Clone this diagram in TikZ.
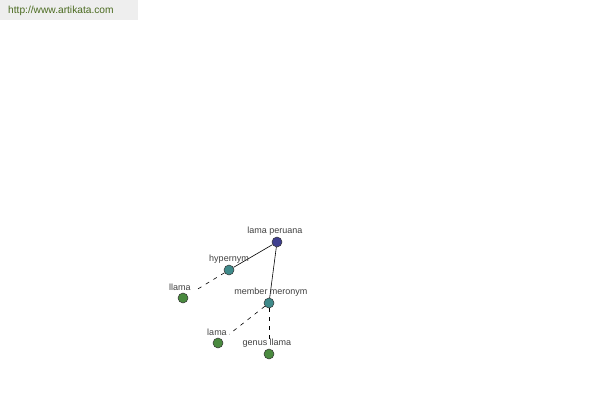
\documentclass[tikz,border=0pt]{standalone}
\usepackage{fontspec}
\setmainfont{Liberation Sans}
\definecolor{rootc}{HTML}{3F3F8F}
\definecolor{midc}{HTML}{3F8A8A}
\definecolor{leafc}{HTML}{4A8A3F}
\definecolor{urlc}{HTML}{4A6A1F}
\definecolor{bandc}{HTML}{EEEEEE}
\begin{document}
\begin{tikzpicture}[x=1pt,y=-1pt,
  dot/.style={circle,draw=black!80,line width=0.5pt,minimum size=10pt,inner sep=0pt},
  lbl/.style={font=\fontsize{9}{10}\selectfont,text=black!75,inner sep=0pt},
  solidlink/.style={draw=black,line width=0.6pt},
  dashlink/.style={draw=black,line width=0.6pt,dash pattern=on 4pt off 5pt,shorten >=9pt}]
\useasboundingbox (0,0) rectangle (600,400);
\fill[bandc] (0,0) rectangle (138,20);
\node[anchor=west,inner sep=0pt,text=urlc,font=\fontsize{10.2}{12}\selectfont] (url) at (8,11) {http://www.artikata.com};
\node[dot,fill=rootc] (root) at (277,242) {};
\node[dot,fill=midc] (hyp) at (229,270) {};
\node[dot,fill=midc] (mer) at (269,303) {};
\node[dot,fill=leafc] (llama) at (183,298) {};
\node[dot,fill=leafc] (lama) at (218,343) {};
\node[dot,fill=leafc] (genus) at (269,354) {};
\draw[solidlink] (root) -- (hyp);
\draw[solidlink] (root) -- (mer);
\draw[dashlink] (hyp) -- (llama);
\draw[dashlink] (mer) -- (lama);
\draw[dashlink,shorten >=6pt] (mer) -- (genus);
\node[lbl] (l1) at (275,231) {lama peruana};
\node[lbl] (l2) at (229,259) {hypernym};
\node[lbl] (l3) at (180,287) {llama};
\node[lbl] (l4) at (271,292) {member meronym};
\node[lbl] (l5) at (217,332) {lama};
\node[lbl] (l6) at (267,343) {genus llama};
\end{tikzpicture}
\end{document}
